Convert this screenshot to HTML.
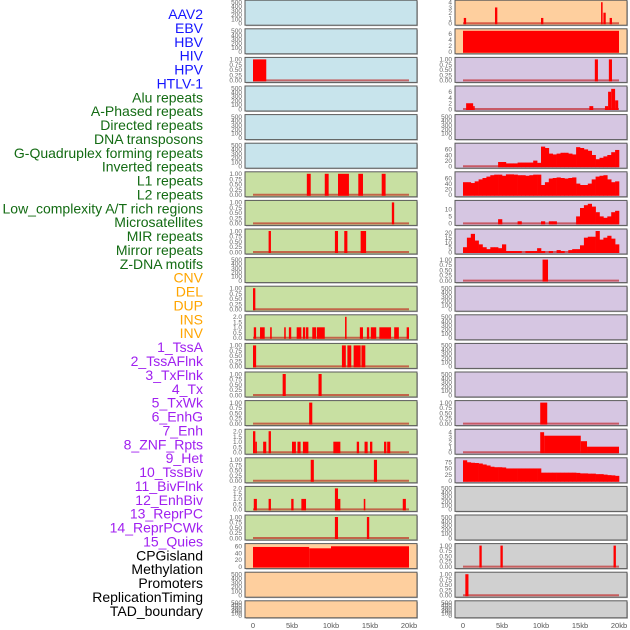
<!DOCTYPE html>
<html><head><meta charset="utf-8">
<style>
body{margin:0;background:#fff;}
svg{display:block;font-family:"Liberation Sans",sans-serif;}
</style></head>
<body>
<svg id="chart" width="630" height="630" viewBox="0 0 630 630" xmlns="http://www.w3.org/2000/svg"></svg>
<script>
// ---- labels ----
const trackLabels = ["AAV2","EBV","HBV","HIV","HPV","HTLV-1","Alu repeats","A-Phased repeats","Directed repeats","DNA transposons","G-Quadruplex forming repeats","Inverted repeats","L1 repeats","L2 repeats","Low_complexity A/T rich regions","Microsatellites","MIR repeats","Mirror repeats","Z-DNA motifs","CNV","DEL","DUP","INS","INV","1_TssA","2_TssAFlnk","3_TxFlnk","4_Tx","5_TxWk","6_EnhG","7_Enh","8_ZNF_Rpts","9_Het","10_TssBiv","11_BivFlnk","12_EnhBiv","13_ReprPC","14_ReprPCWk","15_Quies","CPGisland","Methylation","Promoters","ReplicationTiming","TAD_boundary"];
const labelGroups = [6,13,5,15,5];
const groupColors = ["#1515ff","#136b13","#ffa500","#a020f0","#000000"];
const xTicks = [0,5,10,15,20];
const xTickLabels = ["0","5kb","10kb","15kb","20kb"];

// ---- left column interval data: [startKb, endKb, value] ----
const L2 = [[0,1.7,1]];
const L6 = [[6.9,7.4,1],[9.2,9.7,1],[10.9,12.3,1],[13.5,14.1,1],[16.5,17.0,1]];
const L7 = [[17.8,18.1,1]];
const L8 = [[2.0,2.3,1],[10.5,10.9,1],[11.7,12.1,1],[13.8,14.5,1]];
const L10 = [[0,0.3,1]];
const L11 = [[0.1,0.4,1],[0.9,1.5,1],[2.2,2.4,1],[4.0,4.2,1],[4.6,4.9,1],[5.6,6.2,1],[6.4,6.7,1],[6.8,7.1,1],[7.6,8.1,1],[8.2,9.2,1],[11.8,12.0,2],[13.7,14.1,1],[14.6,14.9,1],[15.1,15.8,1],[16.2,17.7,1],[18.1,18.7,1],[19.7,20,1]];
const L12 = [[0,0.4,1],[11.4,11.9,1],[12.1,12.6,1],[12.9,13.8,1],[13.9,14.4,1]];
const L13 = [[3.8,4.2,1],[8.4,8.8,1]];
const L14 = [[7.2,7.6,1]];
const L15 = [[0,0.3,2],[0.3,0.5,1],[1.3,1.7,1],[2.0,2.3,2],[5.0,5.5,1],[5.7,6.1,1],[6.4,7.1,1],[10.3,11.2,1],[13.3,13.6,1],[14.3,14.7,1],[15.0,15.3,1],[16.8,17.1,1],[17.2,17.6,1]];
const L16 = [[7.4,7.8,1],[15.5,15.9,1]];
const L17 = [[0.1,0.5,1],[2.0,2.3,1],[4.9,5.2,1],[6.2,6.8,1],[10.5,10.9,2],[10.9,11.2,1],[14.2,14.4,1],[19.2,19.6,1]];
const L18 = [[10.5,10.9,1],[14.6,14.9,1]];
const L19 = [[0,7.2,58],[7.2,10,54],[10,20,60]];

// ---- right column data ----
const R0 = [[0.1,0.4,1],[4.1,4.4,3],[10,10.3,1],[17.7,17.9,4],[18.0,18.3,2],[18.8,19.1,1]];
const R1 = [[0,20,7]];
const R2 = [[16.9,17.3,1],[18.7,19.1,1]];
const R3 = [[0.4,1.3,2],[1.3,1.5,1],[16.2,16.7,1],[18.2,18.6,1],[18.6,19.0,6],[19.0,19.5,7],[19.5,19.9,3]];
// binned profiles, 0.5kb bins
const R5 = [0,0,0,0,0,0,0,0,0,15,15,10,10,10,13,13,13,13,20,12,70,65,45,42,45,48,48,45,42,68,65,60,55,40,25,30,35,40,50,58];
const R6 = [45,45,42,48,55,60,65,70,72,72,68,73,73,72,70,70,68,70,72,72,35,45,58,60,62,60,58,60,62,40,35,35,40,55,65,68,70,55,45,48];
const R7 = [0,0,0,0,0,0,0,0,0,3,0,0,0,0,1.5,0,0,0,0,0,1.5,0,1.5,1.5,0,0,0,0,0,5,11,13,14,12,8,5,4,5,8,9];
const R8 = [5,15,19,12,8,5,3,5,5,4,8,1,1,1,1,0,1,1,1,4,1,0,1,0,2,1,0,2,3,3,7,15,16,16,22,13,15,17,14,8];
const R9 = [[10.2,10.9,1]];
const R14 = [[9.9,10.8,1]];
const R15 = [[9.9,10.4,4],[10.4,15.1,3.3],[15.1,15.9,2.2],[15.9,20,1.1]];
const R16 = [83,75,73,72,70,66,62,57,55,55,54,50,50,50,50,50,50,50,50,50,33,33,33,33,33,33,33,33,33,32,30,30,29,29,27,27,25,23,22,20];
const R19 = [[2.1,2.4,1],[4.8,5.1,1],[19.3,19.6,1]];
const R20 = [[0.3,0.7,1]];

const BLUE="#c8e4ec", GREEN="#c8e0a2", PEACH="#fecf9e", LAV="#d6c6e2", GREY="#d0d0d0";
const T1=[0,0.25,0.5,0.75,1], T2=[0,0.5,1,1.5,2], T500=[0,100,200,300,400,500];
// panel specs: [bg, type, data, ymax, ticks, baseline]
const leftPanels = [
 [BLUE,"e"],[BLUE,"e"],[BLUE,"i",L2,1,T1,1],[BLUE,"e"],[BLUE,"e"],[BLUE,"e"],
 [GREEN,"i",L6,1,T1,1],[GREEN,"i",L7,1,T1,1],[GREEN,"i",L8,1,T1,1],[GREEN,"e"],
 [GREEN,"i",L10,1,T1,1],[GREEN,"i",L11,2,T2,1],[GREEN,"i",L12,1,T1,1],[GREEN,"i",L13,1,T1,1],
 [GREEN,"i",L14,1,T1,1],[GREEN,"i",L15,2,T2,1],[GREEN,"i",L16,1,T1,1],[GREEN,"i",L17,2,T2,1],
 [GREEN,"i",L18,1,T1,1],[PEACH,"i",L19,62,[0,20,40,60],0],[PEACH,"e"],[PEACH,"e"]];
const rightPanels = [
 [PEACH,"i",R0,4,[0,1,2,3,4],1],[PEACH,"i",R1,7,[0,2,4,6],0],[LAV,"i",R2,1,T1,1],[LAV,"i",R3,7.3,[0,2,4,6],1],
 [LAV,"e"],[LAV,"b",R5,75,[0,20,40,60],1],[LAV,"b",R6,75,[0,20,40,60],0],[LAV,"b",R7,15,[0,5,10],1],
 [LAV,"b",R8,22,[0,5,10,15,20],1],[LAV,"i",R9,1,T1,1],[LAV,"e"],[LAV,"e"],[LAV,"e"],[LAV,"e"],
 [LAV,"i",R14,1,T1,1],[LAV,"i",R15,4.2,[0,1,2,3,4],1],[LAV,"b",R16,85,[0,25,50,75],0],
 [GREY,"e"],[GREY,"e"],[GREY,"i",R19,1,T1,1],[GREY,"i",R20,1,T1,1],[GREY,"e"]];

const NS="http://www.w3.org/2000/svg";
const svg=document.getElementById("chart");
function mk(tag,attrs,parent){const e=document.createElementNS(NS,tag);for(const k in attrs)e.setAttribute(k,attrs[k]);(parent||svg).appendChild(e);return e;}

// labels
let li=0;
labelGroups.forEach((n,g)=>{for(let j=0;j<n;j++){
  const t=mk("text",{x:203,y:14+li*13.88+5,"text-anchor":"end","font-size":14,fill:groupColors[g]});
  t.textContent=trackLabels[li];
  
  
  li++;}});

function drawColumn(panels,px0,colName){
  const pw=172, x0kb=px0+8, kbw=7.8;
  const xs=kb=>x0kb+kb*kbw;
  panels.forEach((p,i)=>{
    const top=0.2+i*28.6, h=(i===21)?17:25;
    const g=mk("g",{});
    
    
    mk("rect",{x:px0+1,y:top+1,width:pw,height:h,fill:"#bbb"},g);
    mk("rect",{x:px0,y:top,width:pw,height:h,fill:p[0],stroke:"#5a5a5a","stroke-width":1},g);
    const ybot=top+h-2, ytop=top+2;
    const ticks=p[1]==="e"?T500:p[4], ymax=p[1]==="e"?500:p[3];
    const ys=v=>ybot-(v/ymax)*(ybot-ytop);
    ticks.forEach(t=>{
      const tt=mk("text",{x:px0-3,y:ys(t)+2.3,"text-anchor":"end","font-size":6.5,fill:"#666"},g);
      tt.textContent=(ymax===1)?t.toFixed(2):(ymax===2?t.toFixed(1):String(t));
    });
    if(p[1]==="e")return;
    if(p[5])mk("line",{x1:xs(0),x2:xs(20),y1:ybot,y2:ybot,stroke:"rgba(190,0,0,0.55)","stroke-width":2},g);
    if(p[1]==="i"){
      p[2].forEach(s=>{
        const r=mk("rect",{x:xs(s[0]),y:ys(s[2]),width:Math.max(1.5,xs(s[1])-xs(s[0])),height:ybot-ys(s[2])+1,fill:"#ff0000"},g);
        
        
      });
    } else {
      p[2].forEach((v,k)=>{
        if(v<=0)return;
        const r=mk("rect",{x:xs(k*0.5),y:ys(v),width:xs(0.5)-xs(0)+0.3,height:ybot-ys(v)+1,fill:"#ff0000"},g);
        
        
      });
    }
  });
  xTicks.forEach((t,k)=>{
    const tt=mk("text",{x:xs(t),y:628,"text-anchor":"middle","font-size":7.5,fill:"#555"});
    tt.textContent=xTickLabels[k];
    
    
  });
}
drawColumn(leftPanels,245,"left");
drawColumn(rightPanels,455,"right");
</script>
</body></html>
